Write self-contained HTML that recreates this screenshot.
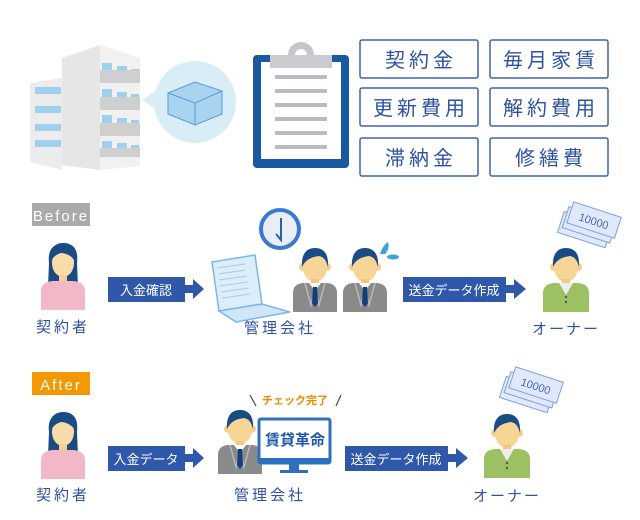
<!DOCTYPE html>
<html><head><meta charset="utf-8"><style>
html,body{margin:0;padding:0;background:#fff;}
svg{display:block;}
text{font-family:"Liberation Sans","Noto Sans CJK JP",sans-serif;}
</style></head><body>
<svg width="640" height="520" viewBox="0 0 640 520" xmlns="http://www.w3.org/2000/svg">
<defs>
<g id="face">
  <circle cx="-12" cy="2" r="4" fill="#f5cf8f"/>
  <circle cx="12" cy="2" r="4" fill="#f5cf8f"/>
  <ellipse cx="0" cy="2" rx="12" ry="15" fill="#f7d594"/>
  <path d="M-13,2 C-14,-14 -6,-17 0,-17 C8,-17 14,-12 13,2 C11,-6 8,-8 4,-9 C-3,-8 -9,-6 -13,2 Z" fill="#1b4b84"/>
  <rect x="-4" y="14" width="8" height="6" fill="#f2c784"/>
</g>
<g id="suit">
  <use href="#face"/>
  <path d="M-22,47 L-22,28 Q-22,19 -12,18 L12,18 Q22,19 22,28 L22,47 Z" fill="#8a8a8a"/>
  <path d="M-6,18 L0,26 L6,18 Z" fill="#fff"/>
  <path d="M-10,18 L-4,40 L0,24 L4,40 L10,18" fill="none" stroke="#b8b8b8" stroke-width="1.5"/>
  <path d="M-2,22 L2,22 L3,38 L0,42 L-3,38 Z" fill="#123e7a"/>
</g>
<g id="owner">
  <use href="#face"/>
  <path d="M-23,47 L-23,28 Q-23,19 -12,18 L12,18 Q23,19 23,28 L23,47 Z" fill="#9cc163"/>
  <path d="M-7,18 L0,30 L7,18 Z" fill="#eee"/>
  <circle cx="0" cy="32" r="1.2" fill="#555"/><circle cx="0" cy="37" r="1.2" fill="#555"/>
</g>
<g id="woman">
  <path d="M-14,0 C-16,-16 -6,-20 0,-20 C8,-20 16,-16 14,0 L15,24 L-15,24 Z" fill="#1b4b84"/>
  <ellipse cx="0" cy="0" rx="11" ry="14" fill="#f9dcaa"/>
  <path d="M-12,-2 C-12,-14 -4,-16 0,-16 C6,-16 12,-12 12,-2 C8,-8 2,-10 -2,-10 C-6,-9 -10,-6 -12,-2 Z" fill="#1b4b84"/>
  <rect x="-4" y="12" width="8" height="7" fill="#f5cf9a"/>
  <path d="M-22,47 L-22,28 Q-22,19 -10,18 L10,18 Q22,19 22,28 L22,47 Z" fill="#f2b8c8"/>
</g>
<g id="money">
  <g transform="rotate(18)">
    <rect x="0" y="12" width="50" height="22" fill="#dfe9fb" stroke="#7fa0d8" stroke-width="1"/>
    <rect x="3" y="6" width="50" height="22" fill="#dfe9fb" stroke="#7fa0d8" stroke-width="1"/>
    <rect x="6" y="0" width="50" height="22" fill="#dfe9fb" stroke="#7fa0d8" stroke-width="1"/>
    <text x="31" y="16" font-size="11" fill="#4668b0" text-anchor="middle">10000</text>
  </g>
</g>
</defs>

<polygon points="30,83 62,78 62,170 30,162" fill="#ececec"/>
<polygon points="62,58 100,45 100,170 62,165" fill="#e6e6e6"/>
<polygon points="100,45 140,58 140,166 100,170" fill="#f1f1f1"/>
<g fill="#9fd1ef">
  <rect x="35" y="87" width="26" height="7"/><rect x="35" y="106" width="26" height="7"/>
  <rect x="35" y="124" width="26" height="7"/><rect x="35" y="140" width="26" height="7"/>
  <rect x="102" y="63" width="10" height="8"/><rect x="117" y="66" width="10" height="8"/><rect x="131" y="69" width="8" height="8"/>
  <rect x="102" y="89" width="10" height="8"/><rect x="117" y="92" width="10" height="8"/><rect x="131" y="94" width="8" height="8"/>
  <rect x="102" y="115" width="10" height="8"/><rect x="117" y="118" width="10" height="8"/><rect x="131" y="120" width="8" height="8"/>
  <rect x="102" y="141" width="10" height="8"/><rect x="117" y="143" width="10" height="8"/><rect x="131" y="145" width="8" height="8"/>
</g>
<g fill="#cfcfcf">
  <rect x="100" y="70" width="40" height="13"/><rect x="100" y="97" width="40" height="13"/>
  <rect x="100" y="123" width="40" height="13"/><rect x="100" y="148" width="40" height="9"/>
</g>
<circle cx="195" cy="102" r="41" fill="#d9edf7"/>
<polygon points="142,100 160,88 160,112" fill="#d9edf7"/>
<polygon points="168,93 195,82 222,91 222,114 195,125 168,114" fill="#a8d4f0" stroke="#5b9bd5" stroke-width="1"/>
<path d="M168,93 L195,103 L222,91 M195,103 L195,125" fill="none" stroke="#5b9bd5" stroke-width="1"/>

<rect x="253" y="55" width="96" height="113" rx="4" fill="#1a58a2"/>
<rect x="261" y="62" width="80" height="97" fill="#fff"/>
<circle cx="301" cy="55" r="13" fill="#c4c6ca"/>
<circle cx="301" cy="55" r="6" fill="#fff"/>
<rect x="270" y="55" width="62" height="13" fill="#c9cbcf"/>
<g fill="#b9bbc2">
  <rect x="275" y="75" width="52" height="4"/><rect x="275" y="89" width="52" height="4"/>
  <rect x="275" y="103" width="52" height="4"/><rect x="275" y="117" width="52" height="4"/>
  <rect x="275" y="131" width="52" height="4"/><rect x="275" y="145" width="52" height="4"/>
</g>

<g fill="#fff" stroke="#3d63b0" stroke-width="1.5">
  <rect x="360" y="40" width="118" height="38" rx="2"/><rect x="490" y="40" width="118" height="38" rx="2"/>
  <rect x="360" y="88" width="118" height="38" rx="2"/><rect x="490" y="88" width="118" height="38" rx="2"/>
  <rect x="360" y="138" width="118" height="38" rx="2"/><rect x="490" y="138" width="118" height="38" rx="2"/>
</g>
<g fill="#2d52a0" font-size="20" text-anchor="middle" letter-spacing="4">
  <text x="421" y="67">契約金</text><text x="551" y="67">毎月家賃</text>
  <text x="421" y="115">更新費用</text><text x="551" y="115">解約費用</text>
  <text x="421" y="165">滞納金</text><text x="551" y="165">修繕費</text>
</g>

<rect x="32" y="203" width="58" height="23" fill="#aaaaaa"/>
<text x="61" y="221" font-size="15" fill="#fff" text-anchor="middle" letter-spacing="2">Before</text>
<use href="#woman" x="63" y="263"/>
<text x="63" y="332" font-size="15" fill="#2d52a0" text-anchor="middle" letter-spacing="3">契約者</text>
<rect x="108" y="277" width="77" height="25" fill="#2f58ab"/>
<text x="146" y="295" font-size="13" fill="#fff" text-anchor="middle">入金確認</text>
<polygon points="185,285 193,285 193,279 204,289 193,299 193,293 185,293" fill="#2f58ab"/>
<polygon points="212,262 255,255 262,304 219,311" fill="#dbeefb" stroke="#7db6e8" stroke-width="1.5"/>
<polygon points="219,311 262,304 290,312 236,322" fill="#cfe6f8" stroke="#7db6e8" stroke-width="1.5"/>
<g stroke="#b7c7d6" stroke-width="1">
  <path d="M217,268 L245,264 M218,274 L246,270 M219,280 L247,276 M220,286 L248,282 M221,292 L249,288 M222,298 L250,294"/>
</g>
<circle cx="280" cy="229" r="19" fill="#e9eef5" stroke="#3a7bd0" stroke-width="4"/>
<path d="M281,218 L281,240 L276,234" fill="none" stroke="#2d5fa8" stroke-width="2"/>
<use href="#suit" x="315" y="265"/>
<use href="#suit" x="365" y="265"/>
<path d="M380,254 Q383,245 388,242 Q390,249 385,254 Z" fill="#3aa4d8"/>
<ellipse cx="393" cy="257" rx="6" ry="2.5" fill="#3aa4d8"/>
<text x="280" y="333" font-size="15" fill="#2d52a0" text-anchor="middle" letter-spacing="3">管理会社</text>
<rect x="403" y="277" width="103" height="25" fill="#2f58ab"/>
<text x="454" y="295" font-size="13" fill="#fff" text-anchor="middle">送金データ作成</text>
<polygon points="506,285 514,285 514,279 526,289 514,299 514,293 506,293" fill="#2f58ab"/>
<use href="#money" x="568" y="200"/>
<use href="#owner" x="566" y="265"/>
<text x="566" y="334" font-size="15" fill="#2d52a0" text-anchor="middle" letter-spacing="2">オーナー</text>

<rect x="32" y="372" width="58" height="23" fill="#f39800"/>
<text x="61" y="390" font-size="15" fill="#fff" text-anchor="middle" letter-spacing="2">After</text>
<use href="#woman" x="63" y="432"/>
<text x="63" y="500" font-size="15" fill="#2d52a0" text-anchor="middle" letter-spacing="3">契約者</text>
<rect x="108" y="446" width="77" height="25" fill="#2f58ab"/>
<text x="146" y="464" font-size="13" fill="#fff" text-anchor="middle">入金データ</text>
<polygon points="185,454 193,454 193,448 204,458 193,468 193,462 185,462" fill="#2f58ab"/>
<use href="#suit" x="240" y="427"/>
<rect x="259" y="419" width="71" height="44" rx="2" fill="#fff" stroke="#2f6fbf" stroke-width="3"/>
<rect x="259" y="458" width="71" height="6" fill="#2f6fbf"/>
<rect x="289" y="463" width="10" height="8" fill="#2f6fbf"/>
<rect x="280" y="470" width="28" height="3" fill="#2f6fbf"/>
<text x="295" y="445" font-size="15" font-weight="bold" fill="#1e5aa8" text-anchor="middle">賃貸革命</text>
<text x="295" y="404" font-size="11" font-weight="bold" fill="#f08a00" text-anchor="middle">チェック完了</text>
<path d="M250,395 L256,406 M341,395 L336,406" stroke="#555" stroke-width="1.3"/>
<text x="270" y="500" font-size="15" fill="#2d52a0" text-anchor="middle" letter-spacing="3">管理会社</text>
<rect x="345" y="446" width="103" height="25" fill="#2f58ab"/>
<text x="396" y="464" font-size="13" fill="#fff" text-anchor="middle">送金データ作成</text>
<polygon points="448,454 456,454 456,448 468,458 456,468 456,462 448,462" fill="#2f58ab"/>
<use href="#money" x="510" y="365"/>
<use href="#owner" x="507" y="431"/>
<text x="507" y="501" font-size="15" fill="#2d52a0" text-anchor="middle" letter-spacing="2">オーナー</text>
</svg>
</body></html>
